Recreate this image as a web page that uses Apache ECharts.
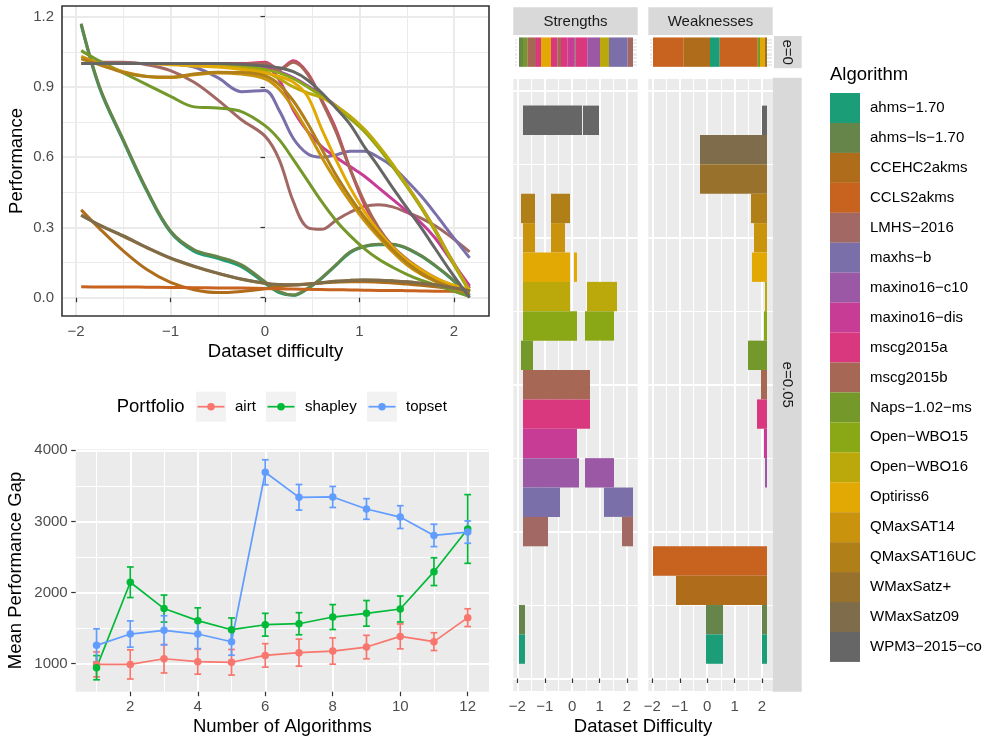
<!DOCTYPE html>
<html>
<head>
<meta charset="utf-8">
<script src="https://cdn.jsdelivr.net/npm/echarts@6/dist/echarts.min.js"></script>
<style>
  html, body { margin: 0; padding: 0; background: #ffffff; }
  #chart { width: 989px; height: 738px; }
</style>
</head>
<body>
<div id="chart"></div>
<script>
// ---------- algorithms and their colours ----------
const algorithms = [
  'ahms-1.70', 'ahms-ls-1.70', 'CCEHC2akms', 'CCLS2akms', 'LMHS-2016', 'maxhs-b',
  'maxino16-c10', 'maxino16-dis', 'mscg2015a', 'mscg2015b', 'Naps-1.02-ms', 'Open-WBO15',
  'Open-WBO16', 'Optiriss6', 'QMaxSAT14', 'QMaxSAT16UC', 'WMaxSatz+', 'WMaxSatz09', 'WPM3-2015-co'
];
const algorithmColors = [
  '#1B9E77', '#65854A', '#AF6D1C', '#C8621F', '#A16864', '#7B6FA9',
  '#9B58A5', '#C73D95', '#D9377E', '#A66754', '#74982A', '#8AA716',
  '#BBA90B', '#E2A804', '#CA930E', '#B17F18', '#98722D', '#7F6C4A', '#666666'
];

// ---------- smoothed performance curves (top left) ----------
const difficultyGrid = [-1.945, -1.75, -1.5, -1.25, -1.0, -0.75, -0.5, -0.25, 0, 0.15, 0.3, 0.45,
  0.6, 0.75, 0.9, 1.05, 1.2, 1.35, 1.5, 1.65, 1.8, 1.95, 2.165];
const perfAhms170    = [1.165, 0.895, 0.67, 0.455, 0.28, 0.198, 0.168, 0.133, 0.062, 0.022, 0.01, 0.038, 0.083, 0.138, 0.192, 0.218, 0.226, 0.226, 0.21, 0.178, 0.136, 0.088, 0.008];
const perfAhmsLs170  = [1.17, 0.9, 0.675, 0.46, 0.285, 0.205, 0.175, 0.14, 0.068, 0.026, 0.012, 0.04, 0.085, 0.14, 0.195, 0.22, 0.228, 0.228, 0.212, 0.18, 0.138, 0.09, 0.01];
const perfCCEHC      = [0.375, 0.295, 0.2, 0.12, 0.065, 0.034, 0.022, 0.027, 0.038, 0.047, 0.054, 0.059, 0.063, 0.066, 0.068, 0.068, 0.066, 0.063, 0.058, 0.053, 0.047, 0.04, 0.03];
const perfCCLS       = [0.047, 0.046, 0.046, 0.045, 0.044, 0.043, 0.042, 0.041, 0.039, 0.038, 0.037, 0.036, 0.035, 0.034, 0.033, 0.032, 0.031, 0.031, 0.03, 0.029, 0.028, 0.028, 0.027];
const perfLMHS       = [1.0, 1.005, 1.005, 0.995, 0.97, 0.92, 0.845, 0.76, 0.69, 0.59, 0.41, 0.3, 0.292, 0.33, 0.365, 0.39, 0.397, 0.388, 0.365, 0.34, 0.307, 0.265, 0.196];
const perfMaxhs      = [1.0, 1.0, 1.0, 1.0, 0.998, 0.985, 0.94, 0.88, 0.885, 0.8, 0.68, 0.615, 0.6, 0.61, 0.625, 0.625, 0.6, 0.56, 0.5, 0.435, 0.36, 0.28, 0.17];
const perfMaxinoC10  = [1.0, 1.0, 1.0, 1.0, 1.0, 1.0, 0.998, 0.99, 0.98, 0.965, 0.94, 0.905, 0.865, 0.82, 0.77, 0.715, 0.645, 0.565, 0.48, 0.39, 0.29, 0.18, 0.04];
const perfMaxinoDis  = [1.0, 1.0, 1.0, 1.0, 1.0, 1.0, 1.0, 0.995, 0.99, 0.93, 0.8, 0.71, 0.645, 0.6, 0.56, 0.52, 0.47, 0.42, 0.37, 0.32, 0.255, 0.17, 0.05];
const perfMscgA      = [1.0, 1.0, 1.0, 1.0, 1.0, 1.0, 1.0, 1.0, 1.005, 0.975, 1.012, 0.96, 0.845, 0.72, 0.55, 0.4, 0.29, 0.21, 0.16, 0.12, 0.083, 0.057, 0.03];
const perfMscgB      = [1.0, 1.0, 1.0, 1.0, 1.0, 1.0, 1.0, 0.998, 1.0, 0.975, 1.005, 0.955, 0.84, 0.71, 0.55, 0.41, 0.3, 0.22, 0.165, 0.122, 0.086, 0.058, 0.032];
const perfNaps       = [1.055, 1.01, 0.96, 0.91, 0.86, 0.815, 0.81, 0.795, 0.735, 0.675, 0.59, 0.5, 0.41, 0.33, 0.265, 0.21, 0.165, 0.13, 0.1, 0.075, 0.055, 0.035, 0.005];
const perfOpenWBO15  = [1.0, 1.0, 1.0, 1.0, 1.0, 0.998, 0.995, 0.99, 0.975, 0.96, 0.935, 0.9, 0.86, 0.815, 0.765, 0.71, 0.64, 0.56, 0.475, 0.385, 0.285, 0.175, 0.025];
const perfOpenWBO16  = [1.0, 1.0, 1.0, 1.0, 1.0, 0.998, 0.99, 0.98, 0.965, 0.935, 0.9, 0.875, 0.855, 0.82, 0.775, 0.72, 0.65, 0.57, 0.48, 0.39, 0.29, 0.18, 0.03];
const perfOptiriss6  = [1.0, 1.0, 1.0, 1.0, 0.995, 0.99, 0.985, 0.975, 0.96, 0.945, 0.92, 0.86, 0.72, 0.59, 0.47, 0.37, 0.285, 0.215, 0.16, 0.12, 0.085, 0.06, 0.035];
const perfQMax14     = [1.03, 1.0, 0.965, 0.945, 0.94, 0.952, 0.96, 0.955, 0.935, 0.89, 0.81, 0.71, 0.6, 0.5, 0.41, 0.33, 0.26, 0.195, 0.14, 0.1, 0.07, 0.045, 0.02];
const perfQMax16UC   = [1.02, 0.995, 0.962, 0.945, 0.942, 0.955, 0.963, 0.962, 0.948, 0.91, 0.84, 0.745, 0.635, 0.525, 0.43, 0.345, 0.27, 0.205, 0.15, 0.105, 0.072, 0.047, 0.02];
const perfWMaxPlus   = [0.352, 0.31, 0.262, 0.213, 0.168, 0.133, 0.104, 0.079, 0.062, 0.056, 0.055, 0.058, 0.064, 0.07, 0.074, 0.076, 0.075, 0.072, 0.068, 0.062, 0.055, 0.045, 0.03];
const perfWMax09     = [0.352, 0.31, 0.265, 0.215, 0.17, 0.135, 0.105, 0.08, 0.062, 0.056, 0.055, 0.058, 0.064, 0.07, 0.074, 0.076, 0.075, 0.072, 0.068, 0.062, 0.055, 0.045, 0.03];
const perfWPM3       = [1.0, 1.0, 1.0, 1.0, 1.0, 1.0, 1.0, 0.997, 0.99, 0.982, 0.965, 0.93, 0.875, 0.81, 0.74, 0.645, 0.56, 0.47, 0.385, 0.3, 0.21, 0.12, 0.0];
const curveValues = [perfAhms170, perfAhmsLs170, perfCCEHC, perfCCLS, perfLMHS, perfMaxhs,
  perfMaxinoC10, perfMaxinoDis, perfMscgA, perfMscgB, perfNaps, perfOpenWBO15, perfOpenWBO16,
  perfOptiriss6, perfQMax14, perfQMax16UC, perfWMaxPlus, perfWMax09, perfWPM3];
const difficultyTicks = [-2, -1, 0, 1, 2];
const performanceTicks = [0, 0.3, 0.6, 0.9, 1.2];

// ---------- portfolio gaps (bottom left) ----------
const portfolios = ['airt', 'shapley', 'topset'];
const portfolioColors = ['#F8766D', '#00BA38', '#619CFF'];
const algorithmCounts = [1, 2, 3, 4, 5, 6, 7, 8, 9, 10, 11, 12];
const airtMean    = [990, 990, 1070, 1028, 1020, 1117, 1155, 1178, 1234, 1384, 1310, 1647];
const airtErr     = [175, 205, 200, 175, 180, 165, 190, 185, 165, 175, 125, 125];
const shapleyMean = [944, 2145, 1775, 1605, 1478, 1548, 1562, 1656, 1708, 1769, 2294, 2894];
const shapleyErr  = [170, 215, 190, 180, 165, 160, 155, 175, 180, 183, 195, 483];
const topsetMean  = [1258, 1417, 1469, 1417, 1309, 3691, 3339, 3344, 3175, 3061, 2803, 2850];
const topsetErr   = [232, 185, 205, 205, 190, 176, 180, 148, 145, 160, 157, 157];
const countTicks = [2, 4, 6, 8, 10, 12];
const gapTicks = [1000, 2000, 3000, 4000];

// ---------- strengths / weaknesses intervals: [algorithm, from, to] ----------
const strengthsE0 = [
  ['ahms-ls-1.70', -1.942, -1.796], ['Naps-1.02-ms', -1.796, -1.639], ['mscg2015b', -1.639, -1.322],
  ['mscg2015a', -1.322, -1.139], ['Optiriss6', -1.139, -0.774], ['mscg2015a', -0.774, -0.544],
  ['mscg2015b', -0.544, -0.409], ['mscg2015a', -0.409, -0.165], ['maxino16-dis', -0.165, 0.076],
  ['WPM3-2015-co', 0.076, 0.113], ['mscg2015a', 0.113, 0.551], ['maxino16-c10', 0.551, 1.014],
  ['Open-WBO16', 1.014, 1.343], ['maxhs-b', 1.343, 2.025], ['LMHS-2016', 2.025, 2.219]
];
const weaknessesE0 = [
  ['CCLS2akms', -1.978, -0.858], ['CCEHC2akms', -0.858, 0.102], ['ahms-1.70', 0.102, 0.456],
  ['CCLS2akms', 0.456, 1.843], ['Naps-1.02-ms', 1.843, 1.927], ['Optiriss6', 1.927, 2.109],
  ['WMaxSatz+', 2.109, 2.182]
];
const strengthsE05 = [
  ['WPM3-2015-co', -1.796, 0.357], ['WPM3-2015-co', 0.394, 0.978],
  ['QMaxSAT16UC', -1.869, -1.358], ['QMaxSAT16UC', -0.774, -0.081],
  ['QMaxSAT14', -1.796, -1.358], ['QMaxSAT14', -0.774, -0.263],
  ['Optiriss6', -1.796, -0.081], ['Optiriss6', 0.065, 0.175],
  ['Open-WBO16', -1.796, -0.081], ['Open-WBO16', 0.54, 1.635],
  ['Open-WBO15', -1.796, 0.175], ['Open-WBO15', 0.467, 1.525],
  ['Naps-1.02-ms', -1.869, -1.431],
  ['mscg2015b', -1.796, 0.649], ['mscg2015a', -1.796, 0.649],
  ['maxino16-dis', -1.796, 0.175],
  ['maxino16-c10', -1.796, 0.248], ['maxino16-c10', 0.467, 1.525],
  ['maxhs-b', -1.796, -0.446], ['maxhs-b', 1.16, 2.219],
  ['LMHS-2016', -1.796, -0.884], ['LMHS-2016', 1.817, 2.219],
  ['ahms-ls-1.70', -1.942, -1.723], ['ahms-1.70', -1.942, -1.723]
];
const weaknessesE05 = [
  ['WPM3-2015-co', 2.0, 2.182], ['WMaxSatz09', -0.263, 2.182], ['WMaxSatz+', -0.263, 2.182],
  ['QMaxSAT16UC', 1.599, 2.182], ['QMaxSAT14', 1.708, 2.182], ['Optiriss6', 1.635, 2.182],
  ['Open-WBO16', 2.109, 2.182], ['Open-WBO15', 2.073, 2.182], ['Naps-1.02-ms', 1.489, 2.182],
  ['mscg2015b', 1.963, 2.182], ['mscg2015a', 1.818, 2.182], ['maxino16-dis', 2.073, 2.182],
  ['maxino16-c10', 2.109, 2.182], ['CCLS2akms', -1.978, 2.182], ['CCEHC2akms', -1.139, 2.182],
  ['ahms-ls-1.70', -0.044, 0.576], ['ahms-ls-1.70', 2.0, 2.182],
  ['ahms-1.70', -0.044, 0.576], ['ahms-1.70', 2.0, 2.182]
];

// ---------- helpers ----------
const FONT = "'Liberation Sans', Arial, Helvetica, sans-serif";
const minus = s => String(s).replace(/-/g, '\u2212');

function valueAxis(o) {
  const lineColor = o.theme === 'bw' ? '#EBEBEB' : '#FFFFFF';
  return {
    type: 'value', gridIndex: o.grid, min: o.min, max: o.max,
    minInterval: o.step, maxInterval: o.step,
    axisLine: { show: false },
    axisTick: { show: !!o.ticks, customValues: o.ticks || undefined, length: 4.5,
      lineStyle: { color: '#333333', width: 1.2 } },
    axisLabel: { show: !!o.ticks, customValues: o.ticks || undefined, margin: 8,
      color: '#4D4D4D', fontSize: 15, fontFamily: FONT, formatter: o.fmt || (v => minus(v)) },
    splitLine: { show: true, lineStyle: { color: lineColor, width: 2 } },
    minorTick: { show: false, splitNumber: 2 },
    minorSplitLine: { show: true, lineStyle: { color: lineColor, width: 1 } },
    name: o.name || '', nameLocation: 'middle', nameGap: o.nameGap || 0,
    nameTextStyle: { color: '#000000', fontSize: 18.5, fontFamily: FONT }
  };
}

function tileRenderer(params, api) {
  const y = api.value(0), x0 = api.value(1), x1 = api.value(2), alg = api.value(3);
  const a = api.coord([x0, y + 0.5]);
  const b = api.coord([x1, y - 0.5]);
  return { type: 'rect', shape: { x: a[0], y: a[1], width: b[0] - a[0], height: b[1] - a[1] },
    style: { fill: algorithmColors[alg] } };
}

function tileSeries(rows, xi, yi, singleRow) {
  return {
    type: 'custom', xAxisIndex: xi, yAxisIndex: yi, renderItem: tileRenderer, silent: true,
    data: rows.map(r => {
      const idx = algorithms.indexOf(r[0]);
      return [singleRow ? 1 : idx + 1, r[1], r[2], idx];
    })
  };
}

const capHalf = 0.1;
function errorBarRenderer(params, api) {
  const x = api.value(0), lo = api.value(1), hi = api.value(2);
  const top = api.coord([x, hi]), bot = api.coord([x, lo]);
  const l = api.coord([x - capHalf, hi])[0], r = api.coord([x + capHalf, hi])[0];
  const style = { stroke: api.visual('color'), lineWidth: 1.7 };
  return { type: 'group', children: [
    { type: 'line', shape: { x1: top[0], y1: top[1], x2: bot[0], y2: bot[1] }, style },
    { type: 'line', shape: { x1: l, y1: top[1], x2: r, y2: top[1] }, style },
    { type: 'line', shape: { x1: l, y1: bot[1], x2: r, y2: bot[1] }, style }
  ] };
}

// ---------- layout ----------
const grids = [
  { left: 62, top: 6, width: 427, height: 310, backgroundColor: '#FFFFFF' },         // performance curves
  { left: 75.7, top: 449.3, width: 413.3, height: 242.4, backgroundColor: '#EBEBEB' }, // portfolio gap
  { left: 513.3, top: 36, width: 124.4, height: 32.3, backgroundColor: '#EBEBEB' },    // strengths e=0
  { left: 648.3, top: 36, width: 124.4, height: 32.3, backgroundColor: '#EBEBEB' },    // weaknesses e=0
  { left: 513.3, top: 77.7, width: 124.4, height: 614, backgroundColor: '#EBEBEB' },   // strengths e=0.05
  { left: 648.3, top: 77.7, width: 124.4, height: 614, backgroundColor: '#EBEBEB' }    // weaknesses e=0.05
].map(g => Object.assign({ show: true, borderWidth: 0, containLabel: false }, g));

const xAxes = [
  valueAxis({ grid: 0, theme: 'bw', min: -2.148, max: 2.37, step: 1, ticks: difficultyTicks,
    name: 'Dataset difficulty', nameGap: 26 }),
  valueAxis({ grid: 1, min: 0.382, max: 12.631, step: 2, ticks: countTicks,
    name: 'Number of Algorithms', nameGap: 26 }),
  valueAxis({ grid: 2, min: -2.15, max: 2.39, step: 1 }),
  valueAxis({ grid: 3, min: -2.15, max: 2.39, step: 1 }),
  valueAxis({ grid: 4, min: -2.15, max: 2.39, step: 1, ticks: difficultyTicks }),
  valueAxis({ grid: 5, min: -2.15, max: 2.39, step: 1, ticks: difficultyTicks })
];
const yAxes = [
  valueAxis({ grid: 0, theme: 'bw', min: -0.0781, max: 1.2457, step: 0.3, ticks: performanceTicks,
    fmt: v => v.toFixed(1), name: 'Performance', nameGap: 36 }),
  valueAxis({ grid: 1, min: 606.4, max: 4014, step: 1000, ticks: gapTicks,
    name: 'Mean Performance Gap', nameGap: 50 }),
  valueAxis({ grid: 2, min: 0.45, max: 1.55, step: 0.25 }),
  valueAxis({ grid: 3, min: 0.45, max: 1.55, step: 0.25 }),
  valueAxis({ grid: 4, min: -0.45, max: 20.45, step: 5 }),
  valueAxis({ grid: 5, min: -0.45, max: 20.45, step: 5 })
];

// ---------- series ----------
const series = [];
algorithms.forEach((name, i) => {
  series.push({
    type: 'line', name, xAxisIndex: 0, yAxisIndex: 0, smooth: 0.35, showSymbol: false, silent: true,
    lineStyle: { color: algorithmColors[i], width: 3 }, itemStyle: { color: algorithmColors[i] },
    data: difficultyGrid.map((x, k) => [x, curveValues[i][k]])
  });
});

const portfolioMeans = [airtMean, shapleyMean, topsetMean];
const portfolioErrs = [airtErr, shapleyErr, topsetErr];
portfolios.forEach((name, p) => {
  series.push({
    type: 'line', name, xAxisIndex: 1, yAxisIndex: 1, symbol: 'circle', symbolSize: 7.5,
    showSymbol: true, silent: true,
    lineStyle: { color: portfolioColors[p], width: 1.7 }, itemStyle: { color: portfolioColors[p] },
    data: algorithmCounts.map((n, k) => [n, portfolioMeans[p][k]])
  });
  series.push({
    type: 'custom', xAxisIndex: 1, yAxisIndex: 1, renderItem: errorBarRenderer, silent: true,
    itemStyle: { color: portfolioColors[p] },
    data: algorithmCounts.map((n, k) => [n, portfolioMeans[p][k] - portfolioErrs[p][k],
      portfolioMeans[p][k] + portfolioErrs[p][k]])
  });
});

series.push(tileSeries(strengthsE0, 2, 2, true));
series.push(tileSeries(weaknessesE0, 3, 3, true));
series.push(tileSeries(strengthsE05, 4, 4, false));
series.push(tileSeries(weaknessesE05, 5, 5, false));

// ---------- strips, legends, titles ----------
const graphics = [];
// panel border of the performance plot
graphics.push({ type: 'rect', z: 100, silent: true, shape: { x: 62, y: 6, width: 427, height: 310 },
  style: { fill: null, stroke: '#333333', lineWidth: 1.6 } });

function strip(x, y, w, h, text, vertical) {
  graphics.push({ type: 'rect', silent: true, shape: { x, y, width: w, height: h }, style: { fill: '#D9D9D9' } });
  graphics.push({ type: 'text', silent: true, x: x + w / 2, y: y + h / 2, rotation: vertical ? -Math.PI / 2 : 0,
    style: { text, fill: '#1A1A1A', fontSize: 15, fontFamily: FONT, align: 'center', verticalAlign: 'middle' } });
}
strip(513.3, 7.3, 124.4, 28.7, 'Strengths', false);
strip(648.3, 7.3, 124.4, 28.7, 'Weaknesses', false);
strip(772.7, 36, 29, 32.3, 'e=0', true);
strip(772.7, 77.7, 29, 614, 'e=0.05', true);

graphics.push({ type: 'text', silent: true, x: 643, y: 726.5,
  style: { text: 'Dataset Difficulty', fill: '#000000', fontSize: 18.5, fontFamily: FONT,
    align: 'center', verticalAlign: 'middle' } });

// algorithm legend
graphics.push({ type: 'text', silent: true, x: 830, y: 75,
  style: { text: 'Algorithm', fill: '#000000', fontSize: 18.5, fontFamily: FONT, align: 'left', verticalAlign: 'middle' } });
algorithms.forEach((name, i) => {
  const cy = 108 + i * 29.94;
  graphics.push({ type: 'rect', silent: true, shape: { x: 830, y: cy - 15, width: 30, height: 30 },
    style: { fill: algorithmColors[i] } });
  graphics.push({ type: 'text', silent: true, x: 870, y: cy,
    style: { text: minus(name), fill: '#000000', fontSize: 15, fontFamily: FONT, align: 'left', verticalAlign: 'middle' } });
});

// portfolio legend
graphics.push({ type: 'text', silent: true, x: 116.7, y: 406.7,
  style: { text: 'Portfolio', fill: '#000000', fontSize: 18.5, fontFamily: FONT, align: 'left', verticalAlign: 'middle' } });
const portfolioKeyX = [196, 266, 367];
portfolios.forEach((name, p) => {
  const kx = portfolioKeyX[p];
  graphics.push({ type: 'rect', silent: true, shape: { x: kx, y: 391.7, width: 30, height: 30 }, style: { fill: '#F2F2F2' } });
  graphics.push({ type: 'line', silent: true, shape: { x1: kx + 1.5, y1: 406.7, x2: kx + 28.5, y2: 406.7 },
    style: { stroke: portfolioColors[p], lineWidth: 1.7 } });
  graphics.push({ type: 'circle', silent: true, shape: { cx: kx + 15, cy: 406.7, r: 3.75 }, style: { fill: portfolioColors[p] } });
  graphics.push({ type: 'text', silent: true, x: kx + 39, y: 406.7,
    style: { text: name, fill: '#000000', fontSize: 15, fontFamily: FONT, align: 'left', verticalAlign: 'middle' } });
});

const chart = echarts.init(document.getElementById('chart'));
chart.setOption({
  animation: false,
  backgroundColor: '#FFFFFF',
  textStyle: { fontFamily: FONT },
  grid: grids,
  xAxis: xAxes,
  yAxis: yAxes,
  series,
  graphic: graphics
});
</script>
</body>
</html>
